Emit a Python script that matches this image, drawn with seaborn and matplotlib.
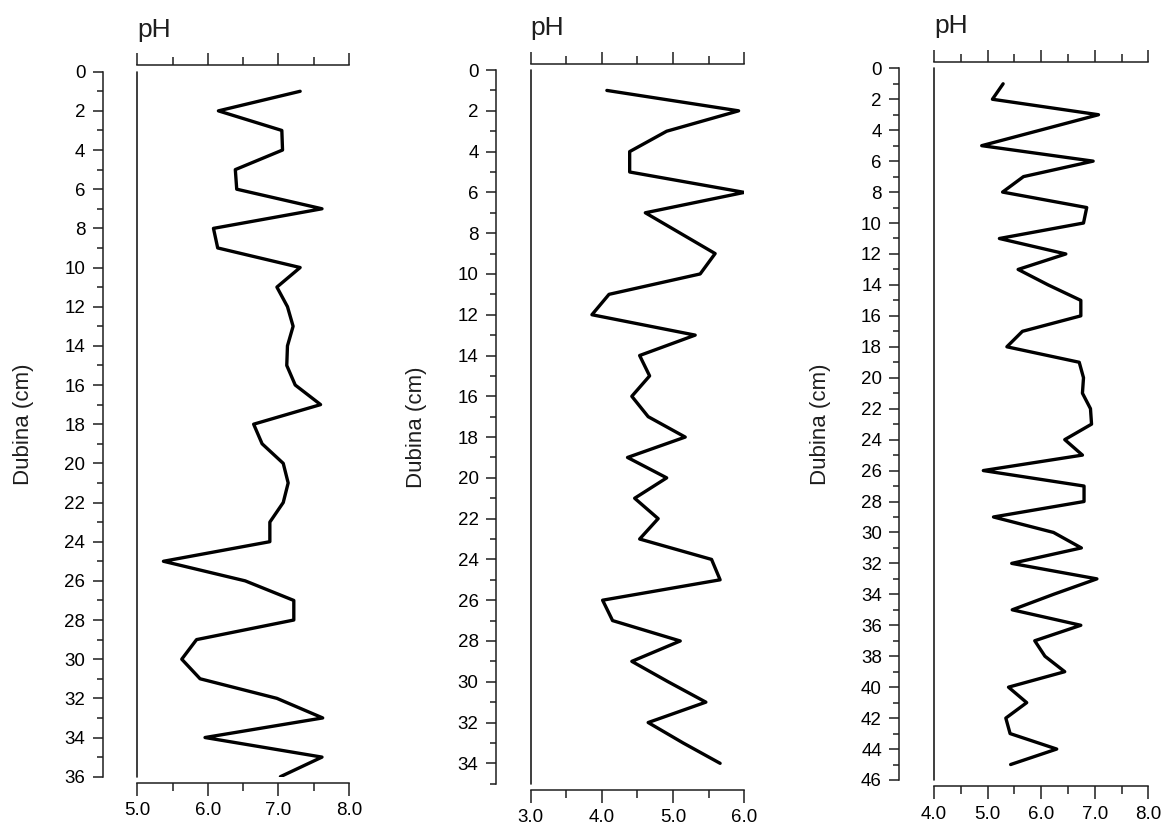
import matplotlib
matplotlib.use("Agg")
import matplotlib.pyplot as plt
from matplotlib.ticker import MultipleLocator, FormatStrFormatter
import seaborn as sns
import pandas as pd

# profile 1
depth_1 = [1, 2, 3, 4, 5, 6, 7, 8, 9, 10, 11, 12, 13, 14, 15, 16, 17, 18,
           19, 20, 21, 22, 23, 24, 25, 26, 27, 28, 29, 30, 31, 32, 33, 34, 35, 36]
ph_1 = [7.31, 6.15, 7.05, 7.06, 6.39, 6.41, 7.62, 6.08, 6.14, 7.31, 6.98, 7.13,
        7.21, 7.13, 7.12, 7.24, 7.60, 6.65, 6.77, 7.07, 7.14, 7.07, 6.88, 6.88,
        5.37, 6.53, 7.22, 7.22, 5.84, 5.63, 5.89, 6.98, 7.63, 5.96, 7.62, 7.03]

# profile 2
depth_2 = [1, 2, 3, 4, 5, 6, 7, 8, 9, 10, 11, 12, 13, 14, 15, 16, 17,
           18, 19, 20, 21, 22, 23, 24, 25, 26, 27, 28, 29, 30, 31, 32, 33, 34]
ph_2 = [4.07, 5.92, 4.91, 4.39, 4.39, 6.00, 4.61, 5.10, 5.59, 5.38, 4.10, 3.86,
        5.31, 4.53, 4.67, 4.42, 4.65, 5.17, 4.36, 4.91, 4.46, 4.79, 4.53, 5.54,
        5.66, 4.01, 4.15, 5.10, 4.42, 4.93, 5.46, 4.65, 5.14, 5.66]

# profile 3
depth_3 = [1, 2, 3, 4, 5, 6, 7, 8, 9, 10, 11, 12, 13, 14, 15, 16, 17, 18,
           19, 20, 21, 22, 23, 24, 25, 26, 27, 28, 29, 30, 31, 32, 33, 34,
           35, 36, 37, 38, 39, 40, 41, 42, 43, 44, 45]
ph_3 = [5.29, 5.09, 7.07, 5.98, 4.89, 6.97, 5.67, 5.28, 6.85, 6.79, 5.22, 6.46,
        5.57, 6.13, 6.74, 6.74, 5.65, 5.36, 6.71, 6.79, 6.77, 6.92, 6.94, 6.44,
        6.77, 4.92, 6.80, 6.80, 5.11, 6.23, 6.75, 5.45, 7.04, 6.23, 5.46, 6.74,
        5.88, 6.07, 6.44, 5.39, 5.73, 5.34, 5.42, 6.29, 5.43]

x_ranges = [(5.0, 8.0), (3.0, 6.0), (4.0, 8.0)]
y_max = [36, 35, 46]

sns.set_style("ticks")
plt.rcParams['font.family'] = ['Liberation Sans', 'DejaVu Sans']

fig = plt.figure(figsize=(11.63, 8.26), dpi=100)

rects = [
    [0.1181, 0.0597, 0.1818, 0.8535],
    [0.4563, 0.0512, 0.1837, 0.8640],
    [0.8031, 0.0557, 0.1843, 0.8616],
]

ink = '#1e1e1e'
profiles = [(depth_1, ph_1), (depth_2, ph_2), (depth_3, ph_3)]

for i, (depth, ph) in enumerate(profiles):
    ax = fig.add_axes(rects[i])
    df = pd.DataFrame({'depth': depth, 'pH': ph})
    sns.lineplot(data=df, x='pH', y='depth', orient='y', estimator=None,
                 color='black', lw=2.4, ax=ax)

    ax.set_xlim(*x_ranges[i])
    ax.set_ylim(y_max[i], 0)
    ax.axvline(x_ranges[i][0], color=ink, lw=1.2, clip_on=False)

    ax.spines['right'].set_visible(False)
    ax.spines['left'].set_position(('outward', 25))
    ax.spines['top'].set_position(('outward', 4.5))
    ax.spines['bottom'].set_position(('outward', 4.5))
    for s in ['left', 'top', 'bottom']:
        ax.spines[s].set_color(ink)
        ax.spines[s].set_linewidth(1.1)

    ax.xaxis.set_major_locator(MultipleLocator(1))
    ax.xaxis.set_minor_locator(MultipleLocator(0.5))
    ax.xaxis.set_major_formatter(FormatStrFormatter('%.1f'))
    ax.yaxis.set_major_locator(MultipleLocator(2))
    ax.yaxis.set_minor_locator(MultipleLocator(1))

    ax.tick_params(axis='x', which='both', top=True, bottom=True,
                   labeltop=False, direction='out', color=ink, width=1.1)
    ax.tick_params(axis='x', which='major', length=9, pad=5, labelsize=13.5,
                   labelcolor='black')
    ax.tick_params(axis='x', which='minor', length=6)
    ax.tick_params(axis='y', which='major', length=7.5, pad=5, labelsize=13.5,
                   color=ink, width=1.1, labelcolor='black')
    ax.tick_params(axis='y', which='minor', length=4.5, color=ink, width=1.1)

    ax.set_xlabel('')
    ax.set_ylabel('')
    ax.annotate('Dubina (cm)', xy=(0, 0.5), xycoords='axes fraction',
                xytext=(-114, 0), textcoords='offset pixels',
                rotation=90, ha='center', va='center', fontsize=16, color=ink)
    ax.annotate('pH', xy=(0, 1), xycoords='axes fraction',
                xytext=(0, 35), textcoords='offset pixels',
                ha='left', va='baseline', fontsize=19, color=ink)

fig.savefig('out.png', dpi=100)
